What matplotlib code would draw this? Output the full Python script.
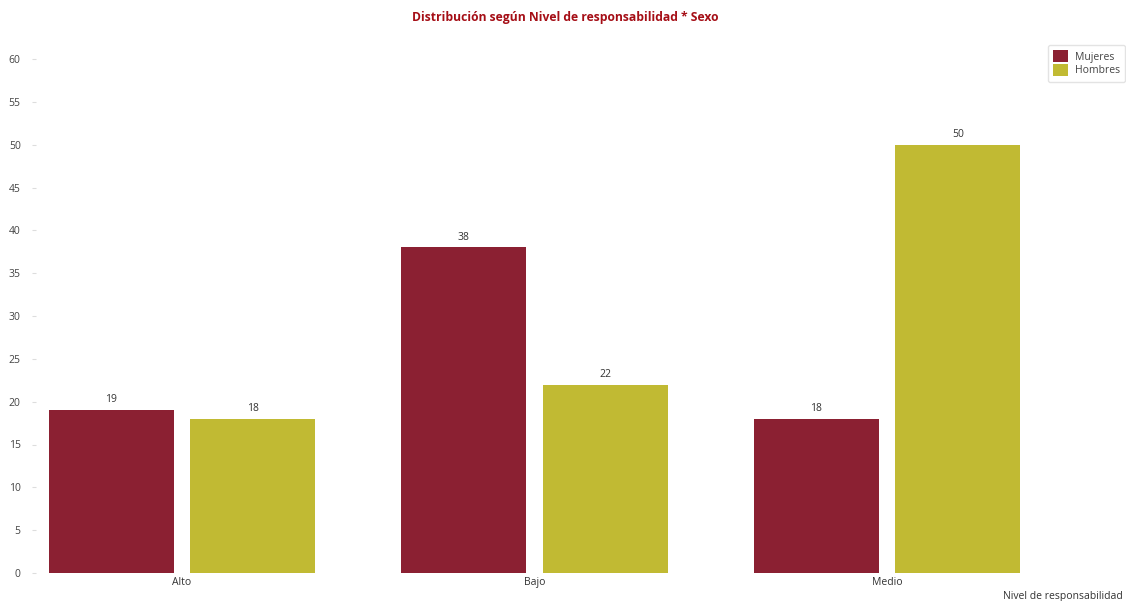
import numpy as np
import matplotlib
matplotlib.use("Agg")
import matplotlib.pyplot as plt
from matplotlib.patches import Patch

plt.rcParams['font.family'] = ['Open Sans', 'DejaVu Sans']

niveles = ['Alto', 'Bajo', 'Medio']
mujeres = [19, 38, 18]
hombres = [18, 22, 50]
series = ['Mujeres', 'Hombres']
colores = ['#8B2032', '#C1BA33']
yticks = [0, 5, 10, 15, 20, 25, 30, 35, 40, 45, 50, 55, 60]

W, H = 1126, 601
fig = plt.figure(figsize=(W / 100, H / 100), dpi=100)
# axes box in pixel units
left, right, top, bottom = 36, 1040, 59, 573
ax = fig.add_axes([left / W, 1 - bottom / H, (right - left) / W, (bottom - top) / H])

x = np.arange(len(niveles))
ancho = 0.355
desp = 0.2007
for vals, off, col in zip([mujeres, hombres], [-desp, desp], colores):
    barras = ax.bar(x + off, vals, width=ancho, color=col)
    for b, v in zip(barras, vals):
        ax.annotate(str(v), (b.get_x() + b.get_width() / 2, v), xytext=(0, 3.5),
                    textcoords='offset points', ha='center', va='bottom',
                    fontsize=7.5, color='#333333')

paso = 352.5
ax.set_xlim((left - 182) / paso, (right - 182) / paso)
ax.set_ylim(0, 60)
ax.set_yticks(yticks)
ax.set_xticks(x)
ax.set_xticklabels(niveles)
ax.tick_params(axis='y', length=3, color='#dddddd', labelsize=7.5, labelcolor='#444444', pad=8)
ax.tick_params(axis='x', length=0, labelsize=7.5, labelcolor='#333333', pad=3)
for s in ax.spines.values():
    s.set_visible(False)

fig.text(565 / W, 1 - 18 / H, 'Distribución según Nivel de responsabilidad * Sexo',
         ha='center', va='center', fontsize=8.7, fontweight='bold', color='#A50E16')
fig.text(1123 / W, 1 - 597 / H, 'Nivel de responsabilidad', ha='right', va='center',
         fontsize=7.5, color='#333333')

handles = [Patch(facecolor=c, label=s) for c, s in zip(colores, series)]
fig.legend(handles=handles, loc='upper right', bbox_to_anchor=(1.004, 1 - 40 / H),
           fontsize=7.5, frameon=True, edgecolor='#dddddd', fancybox=True,
           handlelength=1.4, handleheight=1.4, handletextpad=0.7,
           labelspacing=0.1, borderpad=0.5, labelcolor='#444444')

fig.savefig('out.png', dpi=100)
